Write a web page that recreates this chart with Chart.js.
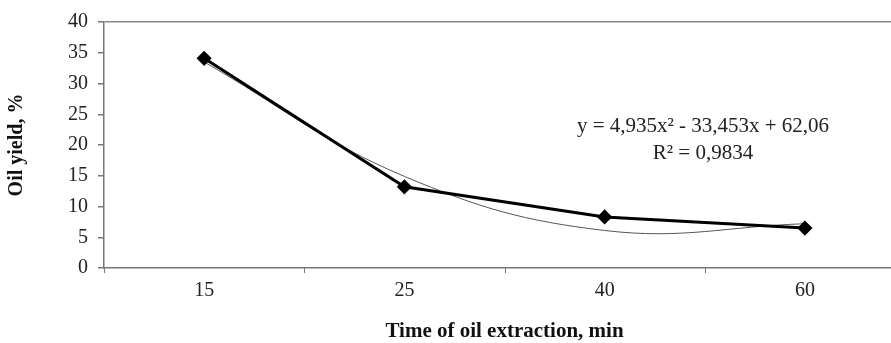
<!DOCTYPE html>
<html>
<head>
<meta charset="utf-8">
<script src="https://cdn.jsdelivr.net/npm/chart.js@4/dist/chart.umd.min.js"></script>
<style>
  html, body { margin: 0; padding: 0; background: #ffffff; overflow: hidden; }
  #wrap { width: 891px; height: 343px; position: relative; }
</style>
</head>
<body>
<div id="wrap"><canvas id="c" width="891" height="343"></canvas></div>
<script>
// ---- data ----
const categories = ['15', '25', '40', '60'];          // Time of oil extraction, min
const oilYield = [34.1, 13.2, 8.3, 6.5];               // Oil yield, %
const trendValues = [33.5, 14.9, 6.1, 7.2];            // polynomial trendline read at the categories
const yTickValues = [0, 5, 10, 15, 20, 25, 30, 35, 40];
const equationText = 'y = 4,935x² - 33,453x + 62,06';
const r2Text = 'R² = 0,9834';
const xTitle = 'Time of oil extraction, min';
const yTitle = 'Oil yield, %';

const serif = '"Liberation Serif", "Times New Roman", serif';

const extras = {
  id: 'extras',
  afterDraw(chart) {
    const ctx = chart.ctx;
    const xs = chart.scales.x, ys = chart.scales.y;
    const y0 = ys.getPixelForValue(0);
    ctx.save();
    // x tick marks between categories
    ctx.strokeStyle = '#777';
    ctx.lineWidth = 1;
    for (let i = 0; i <= categories.length; i++) {
      const px = Math.round(xs.getPixelForValue(i - 0.5)) + 0.5;
      ctx.beginPath();
      ctx.moveTo(px, y0);
      ctx.lineTo(px, y0 + 5);
      ctx.stroke();
    }
    // x axis title centred on the full category range
    const cx = (xs.getPixelForValue(-0.5) + xs.getPixelForValue(categories.length - 0.5)) / 2;
    ctx.fillStyle = '#111';
    ctx.font = 'bold 21px ' + serif;
    ctx.textAlign = 'center';
    ctx.textBaseline = 'middle';
    ctx.fillText(xTitle, cx, 332);
    // trendline equation
    ctx.font = '21px ' + serif;
    ctx.fillStyle = '#222';
    ctx.fillText(equationText, 703, 126);
    ctx.fillText(r2Text, 703, 153);
    ctx.restore();
  }
};

new Chart(document.getElementById('c'), {
  type: 'line',
  data: {
    datasets: [
      {
        label: 'Oil yield',
        data: oilYield.map((v, i) => ({ x: i, y: v })),
        borderColor: '#000',
        backgroundColor: '#000',
        borderWidth: 3,
        pointStyle: 'rectRot',
        pointRadius: 5.5,
        pointBackgroundColor: '#000',
        pointBorderColor: '#000',
        tension: 0
      },
      {
        label: 'Trend',
        data: trendValues.map((v, i) => ({ x: i, y: v })),
        borderColor: '#555',
        borderWidth: 1,
        pointRadius: 0,
        tension: 0.4
      }
    ]
  },
  options: {
    responsive: false,
    animation: false,
    devicePixelRatio: 1,
    layout: { autoPadding: false, padding: { top: 22, right: 0, bottom: 0, left: 0 } },
    plugins: { legend: { display: false }, tooltip: { enabled: false } },
    scales: {
      x: {
        type: 'linear',
        min: -0.5,
        max: 3.43,
        afterBuildTicks(scale) { scale.ticks = categories.map((c, i) => ({ value: i })); },
        afterFit(scale) { scale.height = 75; },
        ticks: {
          autoSkip: false,
          maxRotation: 0,
          padding: 11,
          color: '#222',
          font: { family: serif, size: 20 },
          callback: (v) => categories[v]
        },
        grid: { display: false, drawTicks: false },
        border: { display: true, color: '#777', width: 1.5 }
      },
      y: {
        min: 0,
        max: 40,
        afterBuildTicks(scale) { scale.ticks = yTickValues.map(v => ({ value: v })); },
        afterFit(scale) { scale.width = 104; },
        ticks: {
          padding: 10,
          color: '#222',
          font: { family: serif, size: 20 }
        },
        grid: {
          drawOnChartArea: true,
          color: (c) => (c.tick && c.tick.value === 40 ? '#888' : 'rgba(0,0,0,0)'),
          lineWidth: 1.5,
          tickColor: '#777',
          tickLength: 6
        },
        border: { display: true, color: '#777', width: 1.5 },
        title: {
          display: true,
          text: yTitle,
          color: '#111',
          font: { family: serif, size: 20, weight: 'bold' },
          padding: { top: 5, bottom: 0 }
        }
      }
    }
  },
  plugins: [extras]
});
</script>
</body>
</html>
